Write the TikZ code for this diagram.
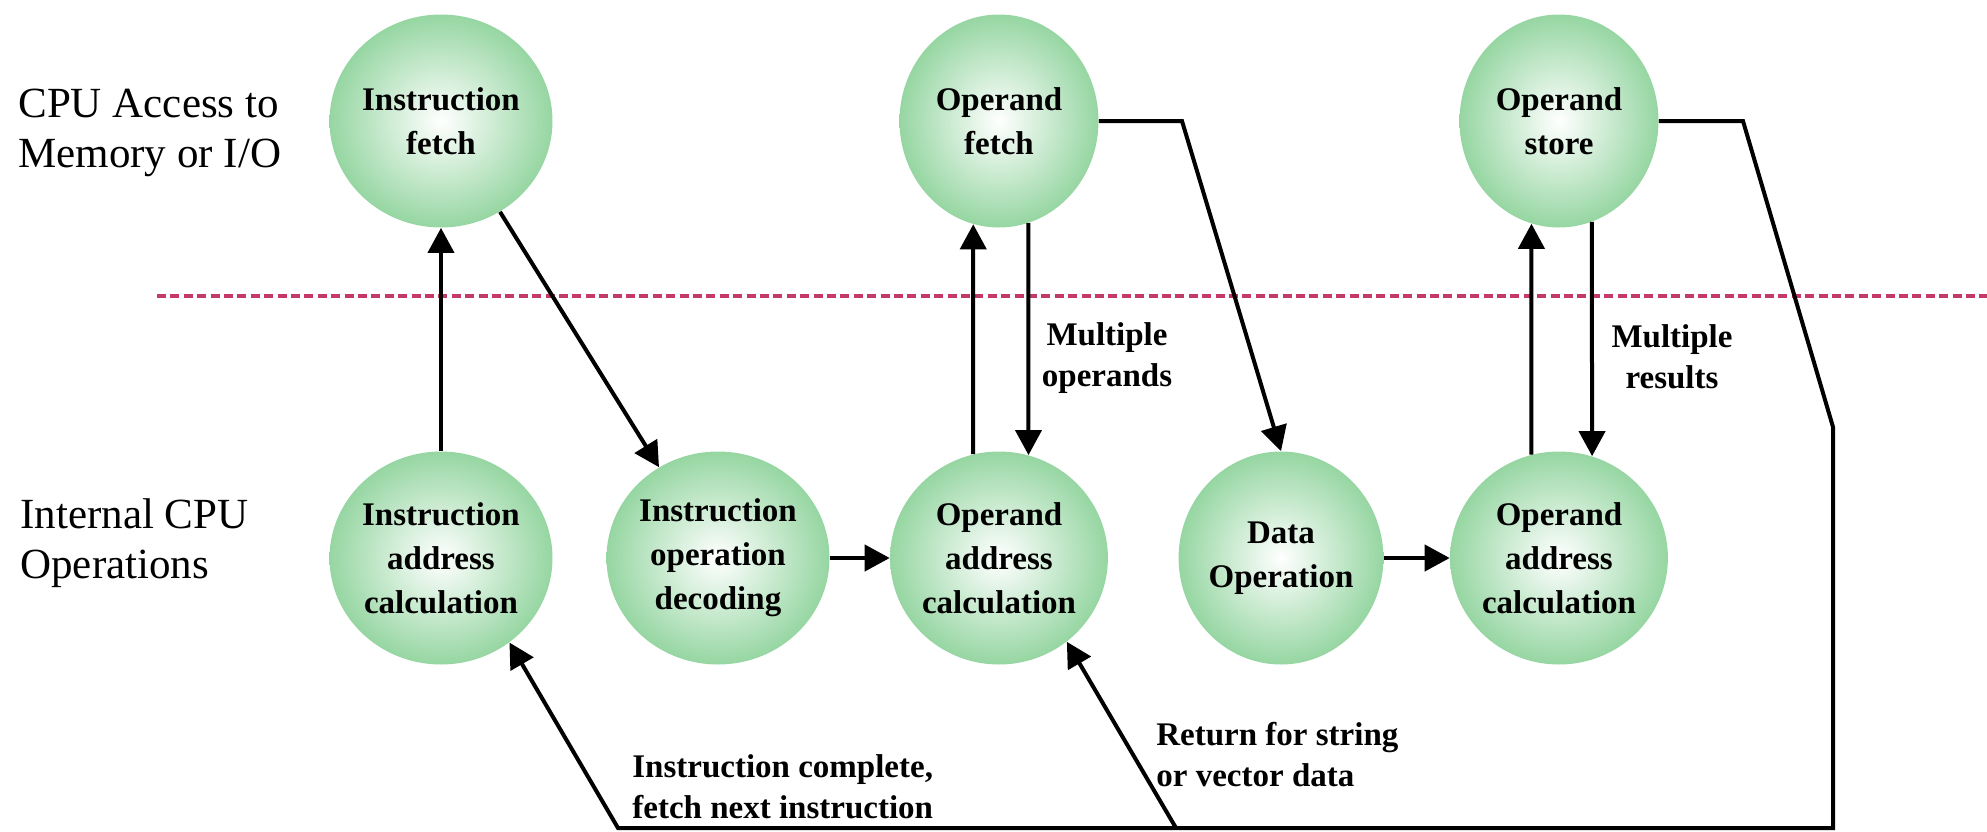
\documentclass[tikz,border=0pt]{standalone}
\usepackage{fontspec}
\setmainfont{LiberationSerif-Regular.ttf}[BoldFont=LiberationSerif-Bold.ttf]
\usetikzlibrary{shapes.geometric,arrows.meta}
\definecolor{bubble}{RGB}{150,214,162}
\definecolor{divider}{RGB}{196,58,102}
\tikzset{
  stage/.style={ellipse, minimum width=99.5pt, minimum height=106.5pt, inner sep=0pt,
    inner color=white, outer color=bubble, align=center,
    font=\bfseries\fontsize{16.5}{22}\selectfont},
  flow/.style={line width=2pt, -{Triangle[length=12.5pt,width=13pt]}},
  note/.style={font=\bfseries\fontsize{16.5}{20.5}\selectfont, inner sep=0pt},
  rowlabel/.style={font=\fontsize{21.5}{25}\selectfont, align=left, inner sep=0pt, anchor=west},
}
\begin{document}
\begin{tikzpicture}[x=0.5pt,y=-0.5pt]
\useasboundingbox (0,0) rectangle (1987,831);

% boundary between memory/I-O access and internal operations
\draw[divider, line width=1.7pt, dash pattern=on 4.5pt off 2.2pt] (157,296) -- (1987,296);

% row captions
\node[rowlabel] (toprow) at (18,133) {CPU Access to\\Memory or I/O};
\node[rowlabel] (botrow) at (20,543) {Internal CPU\\Operations};

% instruction cycle states
\node[stage] (ifetch) at (441,121) {Instruction\\fetch};
\node[stage] (ofetch) at (999,121) {Operand\\fetch};
\node[stage] (ostore) at (1559,121) {Operand\\store};
\node[stage] (iac)  at (441,558) {Instruction\\address\\calculation};
\node[stage] (iod)  at (718,558) {Instruction\\operation\\decoding};
\node[stage] (oac1) at (999,558) {Operand\\address\\calculation};
\node[stage] (dop)  at (1281,558) {Data\\Operation};
\node[stage] (oac2) at (1559,558) {Operand\\address\\calculation};

% bends of the routed connectors
\coordinate (ofk)  at (1182,121);
\coordinate (osk1) at (1743,121);
\coordinate (osk2) at (1833,427);
\coordinate (osk3) at (1833,828);
\coordinate (bl)   at (618,828);
\coordinate (br)   at (1176,828);

% transitions
\draw[flow] (iac.north) -- (ifetch.south);
\draw[flow] (ifetch.-57) -- (iod.123);
\draw[flow] (iod.east) -- (oac1.west);
\draw[flow] (oac1.104) -- (ofetch.-104);
\draw[flow] (ofetch.-74) -- (oac1.74);
\draw[flow] (ofetch.east) -- (ofk) -- (dop.north);
\draw[flow] (dop.east) -- (oac2.west);
\draw[flow] (oac2.105) -- (ostore.-105);
\draw[flow] (ostore.-72) -- (oac2.72);
\draw[flow] (ostore.east) -- (osk1) -- (osk2) -- (osk3) -- (bl) -- (iac.-51);
\draw[flow] (br) -- (oac1.-51);

% transition labels
\node[note, align=center] (mops) at (1107,358) {Multiple\\operands};
\node[note, align=center] (mres) at (1672,357) {Multiple\\results};
\node[note, align=left, anchor=west] (done) at (632,787) {Instruction complete,\\fetch next instruction};
\node[note, align=left, anchor=west] (ret) at (1156,755) {Return for string\\or vector data};
\end{tikzpicture}
\end{document}
